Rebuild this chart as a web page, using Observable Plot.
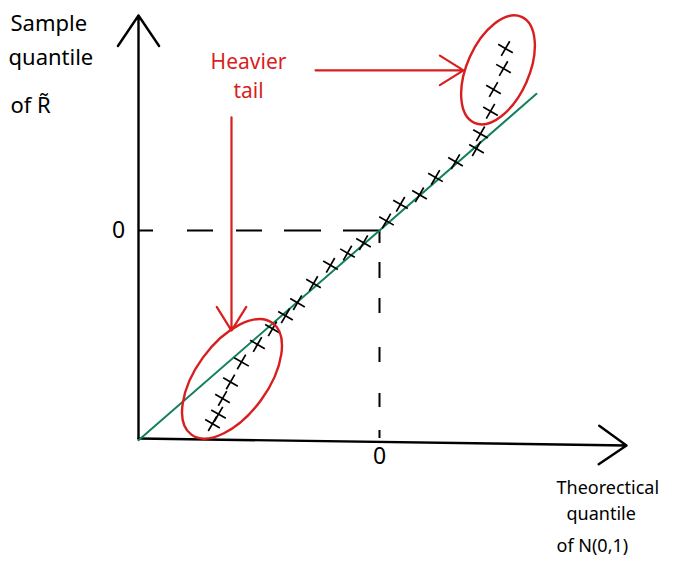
<!DOCTYPE html>
<html>
<head>
<meta charset="utf-8">
<script src="https://cdn.jsdelivr.net/npm/d3@7"></script>
<script src="https://cdn.jsdelivr.net/npm/@observablehq/plot@0.6"></script>
<style>
  body { margin: 0; background: #fff; }
  #chart svg { display: block; }
</style>
</head>
<body>
<div id="chart"></div>
<script>
// Q-Q plot: sample quantiles of R~ against theoretical quantiles of N(0,1)
const theoretical = [-1.67, -1.61, -1.57, -1.49, -1.38, -1.22, -1.07, -0.94, -0.82, -0.66, -0.49, -0.32,
                     -0.16, 0.07, 0.21, 0.40, 0.56, 0.76, 0.97, 1.01, 1.11, 1.14, 1.24, 1.26];
const sample      = [-2.22, -2.11, -1.93, -1.74, -1.51, -1.31, -1.13, -0.98, -0.83, -0.61, -0.40, -0.26,
                     -0.14, 0.11, 0.30, 0.41, 0.61, 0.79, 0.94, 1.11, 1.37, 1.62, 1.86, 2.09];

// reference line y = x
const refX = [-2.41, 1.57];
const refY = [-2.41, 1.57];

const xTicks = [0];
const yTicks = [0];
const xDomain = [-2.41, 2.47];
const yDomain = [-2.39, 2.47];

// "Heavier tail" callouts: circled tails and pointer arrows
const tailCenterX = [-1.47, 1.19];
const tailCenterY = [-1.71, 1.84];
const pointerX1 = [-0.64, -1.48];
const pointerY1 = [1.84, 1.30];
const pointerX2 = [0.84, -1.48];
const pointerY2 = [1.84, -1.15];

const yTitle = ["Sample", "quantile", "of R\u0303"];
const xTitle = ["Theorectical", "quantile", "of N(0,1)"];
const note = ["Heavier", "tail"];

const red = "#d81e1e";
const green = "#13805d";
const font = "Noto Sans, sans-serif";
const M = {left: 138, right: 52, top: 15, bottom: 133};

// ellipse shapes in pixels (semi-axes and tilt)
const tailShape = [{rx: 69, ry: 36, angle: 54}, {rx: 58, ry: 31, angle: 66}];

function tailEllipses(index, scales) {
  const g = d3.create("svg:g")
    .attr("fill", "none").attr("stroke", red).attr("stroke-width", 2.4);
  tailCenterX.forEach((cx, i) => {
    const {rx, ry, angle} = tailShape[i];
    g.append("ellipse")
      .attr("rx", rx).attr("ry", ry)
      .attr("transform", `translate(${scales.x(cx)},${scales.y(tailCenterY[i])}) rotate(${-angle})`);
  });
  return g.node();
}

// text lines placed by left edge (or centre) and baseline, in pixels
function lines(texts, xs, baselines, opts) {
  return texts.map((t, i) => Plot.text([t], {
    text: d => d,
    frameAnchor: "top-left",
    dx: xs[i] - M.left,
    dy: baselines[i] - M.top,
    lineAnchor: "bottom",
    fontFamily: font,
    ...opts
  }));
}

const axisIdx = [0];

const chart = Plot.plot({
  width: 678,
  height: 571,
  marginLeft: M.left,
  marginRight: M.right,
  marginTop: M.top,
  marginBottom: M.bottom,
  x: {domain: xDomain, axis: null},
  y: {domain: yDomain, axis: null},
  marks: [
    // dashed guides to the origin
    Plot.ruleY(yTicks, {x1: xDomain[0], x2: 0, stroke: "black", strokeWidth: 2,
      strokeDasharray: "15,34,26,23,26,22,37,22,36"}),
    Plot.ruleX(xTicks, {y1: 0, y2: yDomain[0], stroke: "black", strokeWidth: 2,
      strokeDasharray: "13,19,16,20,15,34,15,31,14,23,12"}),
    // axes with arrowheads
    Plot.arrow(axisIdx, {x1: () => xDomain[0], y1: () => yDomain[0], x2: () => xDomain[0], y2: () => yDomain[1],
      stroke: "black", strokeWidth: 2.4, headLength: 23, headAngle: 68}),
    Plot.arrow(axisIdx, {x1: () => xDomain[0], y1: () => yDomain[0], x2: () => xDomain[1], y2: () => yDomain[0] - 0.08,
      stroke: "black", strokeWidth: 2.4, headLength: 21, headAngle: 70}),
    Plot.text(xTicks, {x: d => d, text: d => String(d), frameAnchor: "bottom", dy: 25,
      textAnchor: "middle", fontSize: 23, fontFamily: font, fill: "black"}),
    Plot.text(yTicks, {y: d => d, text: d => String(d), frameAnchor: "left", dx: -20,
      textAnchor: "middle", fontSize: 23, fontFamily: font, fill: "black"}),
    // reference line
    Plot.line(refX.map((x, i) => ({x, y: refY[i]})), {x: "x", y: "y", stroke: green, strokeWidth: 2}),
    // sample quantiles
    Plot.dot(theoretical.map((x, i) => ({x, y: sample[i]})), {x: "x", y: "y", symbol: "times", r: 5.5,
      stroke: "black", strokeWidth: 1.7, rotate: -15}),
    // tail callouts
    tailEllipses,
    Plot.arrow(pointerX1.map((x1, i) => ({x1, y1: pointerY1[i], x2: pointerX2[i], y2: pointerY2[i]})),
      {x1: "x1", y1: "y1", x2: "x2", y2: "y2", stroke: red, strokeWidth: 2.2, headLength: 19, headAngle: 64}),
    ...lines(note, [248, 248], [68, 97], {textAnchor: "middle", fill: red, fontSize: 21}),
    // axis titles
    ...lines(yTitle, [10, 8, 10], [30, 64, 112], {textAnchor: "start", fill: "black", fontSize: 22}),
    ...lines(xTitle, [556, 566, 556], [493, 519, 551], {textAnchor: "start", fill: "black", fontSize: 18})
  ]
});

document.getElementById("chart").append(chart);
</script>
</body>
</html>
